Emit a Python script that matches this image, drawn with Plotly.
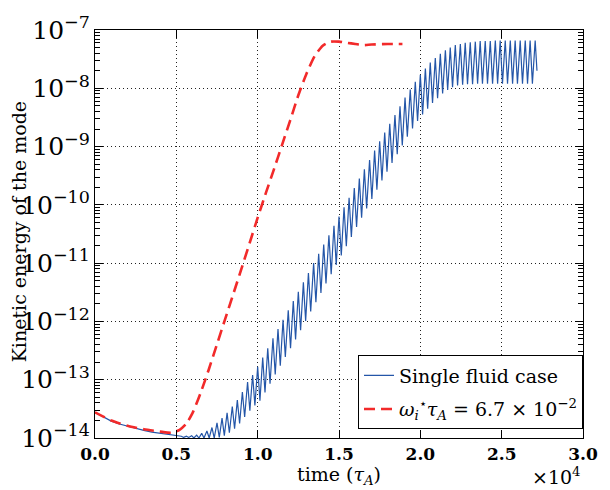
import plotly.graph_objects as go

# time in units of 1e4 tau_A ; energies stored as log10 values
blue_pre_t = [0.0, 0.05, 0.1, 0.15, 0.2, 0.25, 0.3, 0.35, 0.4, 0.45, 0.5, 0.52]
blue_pre_v = [-13.56, -13.64, -13.71, -13.76, -13.80, -13.84, -13.87, -13.90, -13.92, -13.94, -13.96, -13.97]

peak_t = [0.531, 0.562, 0.594, 0.625, 0.656, 0.688, 0.719, 0.750, 0.781, 0.812, 0.844, 0.875,
          0.906, 0.938, 0.969, 1.000, 1.031, 1.062, 1.094, 1.125, 1.156, 1.188, 1.219, 1.250,
          1.281, 1.312, 1.344, 1.375, 1.406, 1.438, 1.469, 1.500, 1.531, 1.562, 1.594, 1.625,
          1.656, 1.688, 1.719, 1.750, 1.781, 1.812, 1.844, 1.875, 1.906, 1.938, 1.969, 2.000,
          2.031, 2.061, 2.092, 2.123, 2.154, 2.184, 2.215, 2.246, 2.276, 2.307, 2.338, 2.368,
          2.399, 2.430, 2.461, 2.491, 2.522, 2.553, 2.583, 2.614, 2.645, 2.675, 2.706]
peak_v = [-13.97, -13.97, -13.96, -13.95, -13.92, -13.88, -13.82, -13.74, -13.66, -13.57, -13.46, -13.35,
          -13.21, -13.04, -12.92, -12.78, -12.62, -12.46, -12.29, -12.13, -11.97, -11.81, -11.65, -11.49,
          -11.33, -11.17, -11.00, -10.84, -10.68, -10.52, -10.36, -10.20, -10.04, -9.88, -9.71, -9.55,
          -9.39, -9.23, -9.07, -8.91, -8.76, -8.61, -8.46, -8.31, -8.16, -8.02, -7.89, -7.77,
          -7.66, -7.56, -7.48, -7.41, -7.35, -7.30, -7.26, -7.24, -7.22, -7.21, -7.20, -7.19,
          -7.19, -7.19, -7.18, -7.18, -7.18, -7.18, -7.18, -7.18, -7.18, -7.18, -7.18]

trough_t = [0.545, 0.576, 0.608, 0.639, 0.670, 0.702, 0.733, 0.764, 0.795, 0.826, 0.858, 0.889,
            0.920, 0.952, 0.983, 1.014, 1.045, 1.076, 1.108, 1.139, 1.170, 1.202, 1.233, 1.264,
            1.295, 1.326, 1.358, 1.389, 1.420, 1.452, 1.483, 1.514, 1.545, 1.576, 1.608, 1.639,
            1.670, 1.702, 1.733, 1.764, 1.795, 1.826, 1.858, 1.889, 1.920, 1.952, 1.983, 2.014,
            2.045, 2.075, 2.106, 2.137, 2.168, 2.198, 2.229, 2.260, 2.290, 2.321, 2.352, 2.382,
            2.413, 2.444, 2.475, 2.505, 2.536, 2.567, 2.597, 2.628, 2.659, 2.689, 2.717]
trough_v = [-13.99, -13.99, -14.00, -14.00, -14.00, -14.00, -14.00, -13.99, -13.96, -13.91, -13.84, -13.75,
            -13.64, -13.53, -13.44, -13.36, -13.22, -13.07, -12.91, -12.76, -12.61, -12.46, -12.31, -12.15,
            -11.99, -11.83, -11.67, -11.51, -11.35, -11.19, -11.03, -10.87, -10.71, -10.55, -10.38, -10.22,
            -10.06, -9.90, -9.74, -9.58, -9.43, -9.28, -9.13, -8.98, -8.83, -8.69, -8.56, -8.45,
            -8.35, -8.25, -8.17, -8.09, -8.03, -7.98, -7.95, -7.94, -7.93, -7.93, -7.92, -7.92,
            -7.92, -7.92, -7.92, -7.92, -7.92, -7.92, -7.92, -7.92, -7.92, -7.92, -7.70]

red_t = [0.0, 0.1, 0.2, 0.3, 0.4, 0.47, 0.52, 0.56, 0.6, 0.65, 0.7, 0.75, 0.8, 0.85, 0.9, 0.95,
         1.0, 1.05, 1.1, 1.15, 1.2, 1.25, 1.3, 1.35, 1.4, 1.45, 1.5, 1.55, 1.6, 1.65, 1.7, 1.8, 1.89]
red_v = [-13.56, -13.70, -13.79, -13.85, -13.89, -13.91, -13.86, -13.76, -13.57, -13.22, -12.82, -12.39,
         -11.96, -11.53, -11.10, -10.66, -10.22, -9.80, -9.39, -8.97, -8.55, -8.12, -7.75, -7.45,
         -7.27, -7.20, -7.20, -7.22, -7.24, -7.26, -7.25, -7.24, -7.24]

x_ticks = [0.0, 0.5, 1.0, 1.5, 2.0, 2.5, 3.0]
x_labels = ["0.0", "0.5", "1.0", "1.5", "2.0", "2.5", "3.0"]
y_range_exp = [-14, -7]          # decades shown on the log axis (labels 10^-14 ... 10^-7)
minor_mult = [2, 3, 4, 5, 6, 7, 8, 9]

# assemble the blue series: smooth decay, then alternating peaks and troughs
blue_x = list(blue_pre_t)
blue_y = [10 ** v for v in blue_pre_v]
for pt, pv, tt, tv in zip(peak_t, peak_v, trough_t, trough_v):
    blue_x += [pt, tt]
    blue_y += [10 ** pv, 10 ** tv]

red_y = [10 ** v for v in red_v]
minor_vals = [m * 10 ** e for e in range(y_range_exp[0], y_range_exp[1]) for m in minor_mult]

SERIF = "DejaVu Serif"

fig = go.Figure()
# transparent copy of the red curve on the right-hand overlay axis (carries mirrored minor ticks)
fig.add_trace(go.Scatter(x=red_t, y=red_y, yaxis="y2", mode="lines",
                         line=dict(color="rgba(0,0,0,0)", width=1),
                         showlegend=False, hoverinfo="skip"))
fig.add_trace(go.Scatter(
    x=blue_x, y=blue_y, mode="lines", name="Single fluid case",
    line=dict(color="#2456a8", width=1.2), legendgroup="a"))
fig.add_trace(go.Scatter(
    x=red_t, y=red_y, mode="lines",
    name="<i>ω</i><sub><i>i</i></sub><sup>⋆</sup><i>τ</i><sub><i>A</i></sub> = 6.7 × 10<sup>−2</sup>",
    line=dict(color="#f22a2a", width=2.6, dash="11px,6px", shape="spline", smoothing=0.6),
    legendgroup="b"))

axis_common = dict(
    showline=True, linecolor="black", linewidth=1.2, mirror="ticks",
    ticks="inside", tickcolor="black", ticklen=8, tickwidth=1.4,
    showgrid=True, gridcolor="#222", griddash="1px,3px", gridwidth=1,
    zeroline=False,
)

fig.update_layout(
    xaxis=dict(range=[0, 3], tickmode="array", tickvals=x_ticks,
               ticktext=["<b>" + s + "</b>" for s in x_labels],
               tickfont=dict(family=SERIF, size=17, color="black"),
               ticklabelstandoff=0, **axis_common),
    yaxis=dict(type="log", range=y_range_exp, tickmode="linear", tick0=0, dtick=1,
               exponentformat="power", showexponent="all",
               tickfont=dict(family=SERIF, size=20, color="black"),
               minor=dict(ticks="inside", ticklen=5, tickcolor="black", tickwidth=1.4,
                          showgrid=False),
               **axis_common),
    yaxis2=dict(type="log", range=y_range_exp, overlaying="y", side="right",
                tickmode="array", tickvals=minor_vals, showticklabels=False,
                ticks="inside", ticklen=5, tickcolor="black", tickwidth=1.4,
                showgrid=False, zeroline=False, showline=False),
    width=610, height=490,
    margin=dict(l=95, r=17, t=18, b=52),
    paper_bgcolor="white", plot_bgcolor="white",
    font=dict(family=SERIF, color="black"),
    showlegend=True,
    legend=dict(x=1.0, xanchor="right", y=0.021, yanchor="bottom",
                bgcolor="white", bordercolor="black", borderwidth=1,
                font=dict(family=SERIF, size=19, color="black"),
                traceorder="grouped", tracegroupgap=6),
    annotations=[
        dict(text="time (<i>τ</i><sub><i>A</i></sub>)", xref="paper", yref="paper",
             x=0.5, y=-0.092, xanchor="center", yanchor="middle", showarrow=False,
             font=dict(family=SERIF, size=19, color="black")),
        dict(text="×10<sup>4</sup>", xref="paper", yref="paper",
             x=1.0, y=-0.092, xanchor="right", yanchor="middle", showarrow=False,
             font=dict(family=SERIF, size=19, color="black")),
        dict(text="Kinetic energy of the mode", xref="paper", yref="paper",
             x=-0.155, y=0.505, xanchor="center", yanchor="middle", showarrow=False,
             textangle=-90, font=dict(family=SERIF, size=19, color="black")),
    ],
)

fig.write_html("out.html")
